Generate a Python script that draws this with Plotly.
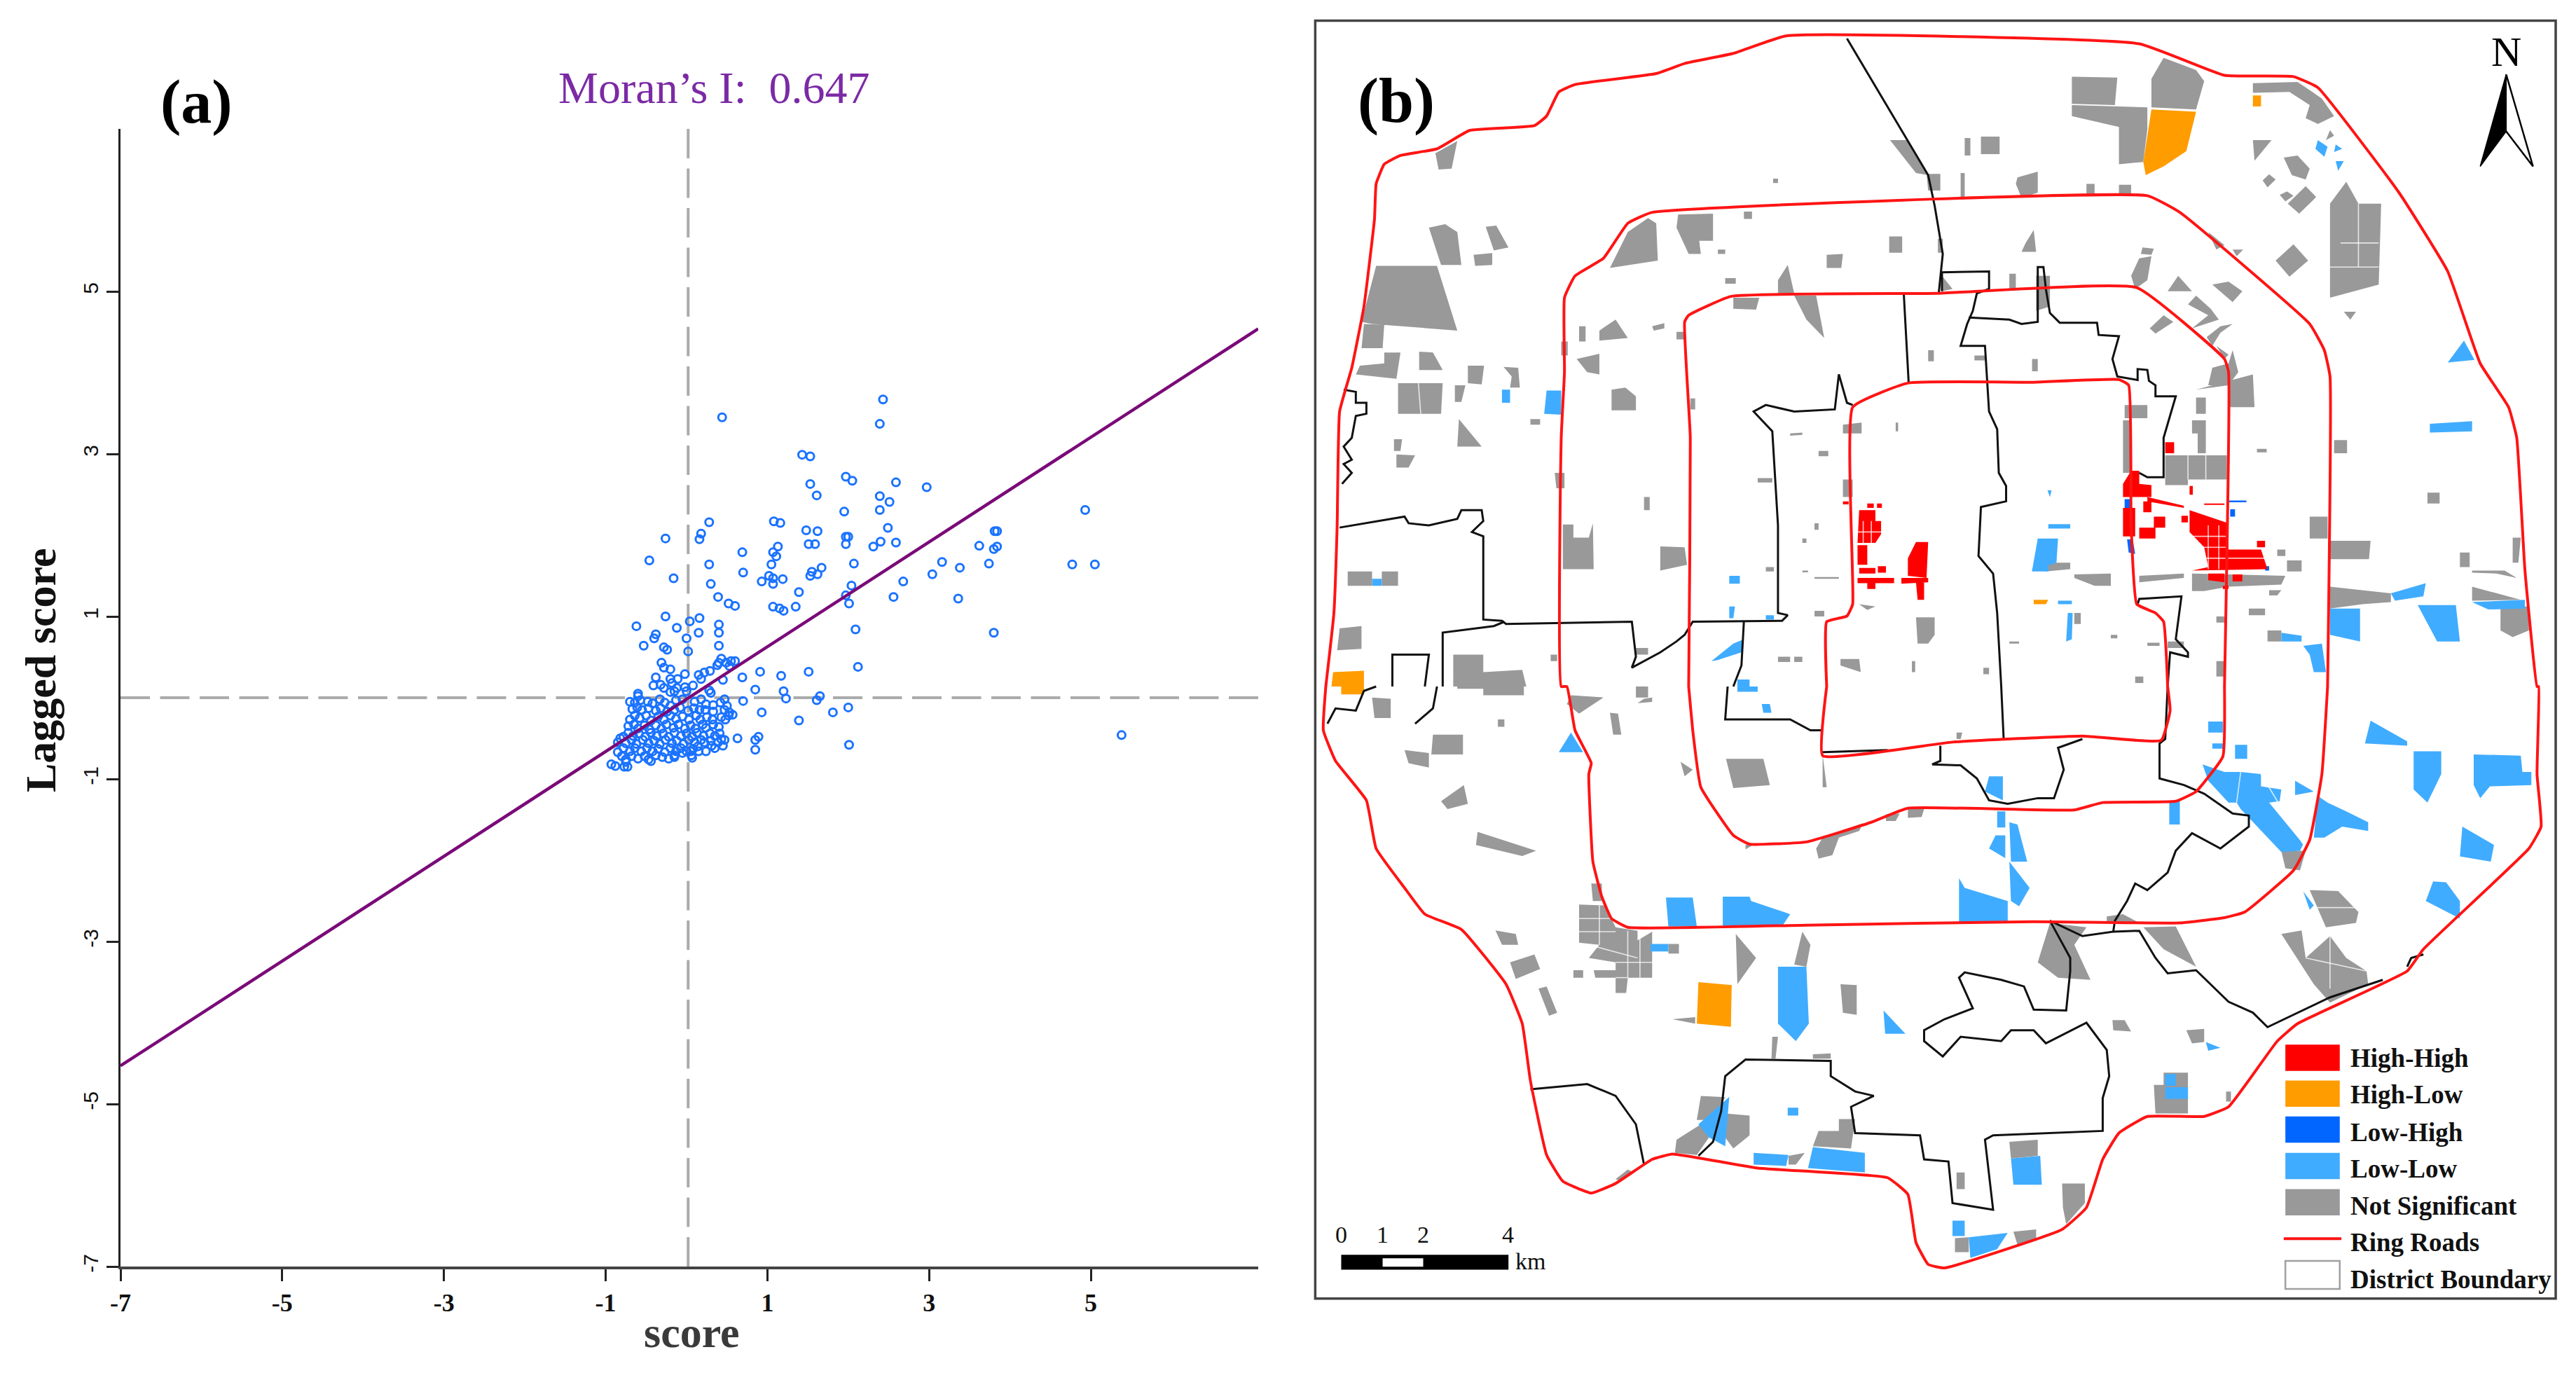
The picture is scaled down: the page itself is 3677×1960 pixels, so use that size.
import plotly.graph_objects as go

# panel (a): values
moran_points = [
    (2.43,3.67),(2.39,3.37),(0.44,3.45),(1.43,2.99),(1.53,2.97),(1.97,2.72),(2.05,2.67),(2.59,2.65),
    (2.97,2.59),(1.53,2.63),(1.61,2.49),(2.39,2.48),(2.51,2.41),(2.39,2.31),(1.95,2.29),(4.93,2.31),
    (1.08,2.17),(1.16,2.15),(0.28,2.16),(0.18,2.02),(0.16,1.95),(-0.26,1.96),(2.49,2.09),(1.48,2.06),
    (1.62,2.05),(3.84,2.05),(3.81,2.05),(1.97,1.98),(2.0,1.98),(2.40,1.92),(2.59,1.91),(2.31,1.86),
    (1.97,1.89),(1.51,1.89),(1.59,1.89),(1.13,1.86),(1.07,1.79),(0.69,1.79),(1.11,1.74),(3.62,1.87),
    (3.84,1.86),(3.80,1.83),(-0.46,1.69),(0.28,1.64),(1.05,1.64),(2.07,1.65),(3.16,1.67),(3.38,1.60),
    (3.74,1.65),(4.77,1.64),(5.05,1.64),(1.67,1.60),(1.55,1.55),(1.62,1.52),(1.53,1.50),(0.70,1.54),
    (-0.16,1.47),(1.02,1.50),(1.07,1.47),(1.19,1.46),(0.93,1.43),(1.07,1.40),(0.30,1.40),(2.68,1.43),
    (3.04,1.52),(2.04,1.38),(1.39,1.30),(1.97,1.26),(2.56,1.24),(3.36,1.22),(0.39,1.24),(0.52,1.16),
    (0.60,1.13),(2.01,1.16),(1.07,1.12),(1.15,1.10),(1.20,1.07),(1.35,1.12),(-0.26,1.00),(0.16,0.98),
    (0.04,0.94),(0.40,0.90),(-0.62,0.88),(-0.12,0.86),(0.15,0.80),(0.40,0.80),(-0.38,0.78),(-0.40,0.73),
    (0.0,0.73),(2.09,0.84),(3.80,0.80),(-0.53,0.64),(-0.28,0.62),(-0.24,0.59),(0.40,0.64),(0.02,0.57),
    (5.38,-0.46),(2.12,0.38),(1.51,0.32),(0.91,0.32),(1.17,0.27),(0.69,0.25),(0.85,0.10),(1.20,0.08),
    (1.23,-0.01),(1.65,0.02),(1.61,-0.03),(0.70,-0.04),(2.00,-0.12),(1.81,-0.18),(0.93,-0.18),(1.39,-0.28),
    (0.63,-0.50),(0.89,-0.48),(0.85,-0.52),(0.85,-0.64),(2.01,-0.58),(0.40,0.43),(0.43,0.48),(0.49,0.43),
    (0.55,0.45),(0.60,0.45),(0.38,0.40),(0.53,0.39),(0.45,0.22),(-0.31,0.43),(-0.28,0.37),(-0.20,0.35),
    (-0.38,0.25),(-0.02,0.29),(-0.11,0.23),(-0.20,0.23),(0.29,0.33),(0.22,0.31),(0.15,0.28),(0.18,0.23),
]
cluster_points = [
    (-0.41,0.15),(-0.32,0.16),(-0.28,0.12),(-0.18,0.18),(-0.12,0.12),(-0.02,0.13),(0.0,0.08),(0.08,0.15),
    (0.28,0.09),(0.3,0.06),(-0.2,0.07),(-0.15,0.08),(-0.6,0.05),(-0.6,0.02),
    (-0.7,-0.05),(-0.64,-0.06),(-0.57,-0.03),(-0.48,-0.05),(-0.42,-0.07),(-0.33,-0.02),(-0.27,-0.06),
    (-0.2,-0.1),(-0.13,-0.03),(-0.05,-0.02),(0.1,-0.05),(0.18,-0.02),(0.24,-0.08),(0.33,-0.09),(0.42,-0.06),
    (0.47,-0.02),(0.5,-0.1),
    (-0.67,-0.14),(-0.61,-0.12),(-0.55,-0.15),(-0.47,-0.13),(-0.38,-0.16),(-0.32,-0.13),(-0.24,-0.17),
    (-0.15,-0.15),(-0.08,-0.12),(0.02,-0.16),(0.09,-0.13),(0.16,-0.15),(0.23,-0.15),(0.33,-0.17),(0.47,-0.15),
    (0.53,-0.18),(0.57,-0.21),
    (-0.7,-0.27),(-0.64,-0.22),(-0.58,-0.25),(-0.5,-0.22),(-0.44,-0.28),(-0.35,-0.23),(-0.28,-0.27),
    (-0.2,-0.22),(-0.13,-0.26),(-0.05,-0.23),(0.03,-0.27),(0.12,-0.22),(0.17,-0.27),(0.25,-0.24),(0.32,-0.27),
    (0.43,-0.24),(0.48,-0.27),(0.52,-0.22),
    (-0.72,-0.35),(-0.65,-0.33),(-0.6,-0.38),(-0.52,-0.34),(-0.46,-0.39),(-0.38,-0.34),(-0.31,-0.38),
    (-0.25,-0.33),(-0.16,-0.37),(-0.1,-0.33),(-0.02,-0.38),(0.05,-0.34),(0.11,-0.38),(0.2,-0.33),(0.24,-0.37),
    (0.33,-0.33),(0.4,-0.36),
    (-0.78,-0.48),(-0.72,-0.43),(-0.66,-0.47),(-0.59,-0.44),(-0.51,-0.48),(-0.44,-0.43),(-0.37,-0.47),
    (-0.29,-0.44),(-0.22,-0.48),(-0.15,-0.43),(-0.07,-0.47),(0.0,-0.44),(0.07,-0.48),(0.13,-0.43),(0.21,-0.47),
    (0.29,-0.44),(0.35,-0.47),(0.41,-0.44),
    (-0.85,-0.55),(-0.82,-0.5),(-0.75,-0.56),(-0.68,-0.52),(-0.62,-0.57),(-0.54,-0.52),(-0.47,-0.56),
    (-0.4,-0.53),(-0.33,-0.57),(-0.26,-0.52),(-0.18,-0.56),(-0.12,-0.53),(-0.04,-0.57),(0.03,-0.52),(0.1,-0.55),
    (0.18,-0.52),(0.22,-0.55),(0.3,-0.53),(0.39,-0.55),(0.43,-0.51),
    (-0.85,-0.67),(-0.78,-0.62),(-0.7,-0.66),(-0.64,-0.62),(-0.56,-0.66),(-0.49,-0.62),(-0.42,-0.66),
    (-0.35,-0.63),(-0.27,-0.67),(-0.2,-0.62),(-0.13,-0.66),(-0.07,-0.62),(0.0,-0.66),(0.08,-0.63),(0.15,-0.66),
    (0.35,-0.62),(0.14,-0.6),
    (-0.8,-0.72),(-0.75,-0.76),(-0.68,-0.72),(-0.6,-0.75),(-0.52,-0.72),(-0.47,-0.76),(-0.38,-0.71),
    (-0.3,-0.73),(-0.15,-0.71),(-0.05,-0.68),(0.05,-0.66),(0.07,-0.74),
    (-0.93,-0.82),(-0.88,-0.84),(-0.77,-0.85),(-0.73,-0.85),(-0.75,-0.79),(-0.44,-0.78),(-0.22,-0.75),
    (-0.15,-0.73),(0.06,-0.71),(0.24,-0.66),(0.31,-0.59),(0.45,-0.59),(0.47,-0.52),
]
fit_x = [-7, 7.07]
fit_y = [-4.53, 4.54]
tick_vals = [-7, -5, -3, -1, 1, 3, 5]
tick_text = ["-7", "-5", "-3", "-1", "1", "3", "5"]

# panel (b): map outlines, map units, north half and south half of the sheet
ring_outer_n = [(28,1568),(38,1400),(42,1200),(45,940),(60,840),(75,700),(88,500),(90,420),(100,375),(120,355),(165,340),(205,298),(285,287),(300,265),(315,210),(335,193),(435,168),(470,145),(530,122),(595,82),(1030,100),(1135,172),(1220,175),(1250,200),(1350,440),(1410,620),(1450,830),(1485,930),(1495,1000),(1505,1300),(1520,1568)]
ring_outer_s = [(1522,0),(1520,200),(1525,320),(1510,370),(1380,600),(1360,650),(1225,770),(1200,810),(1140,960),(1110,982),(1040,982),(1005,1020),(985,1080),(965,1190),(935,1240),(790,1328),(770,1320),(755,1270),(745,1160),(720,1122),(560,1100),(455,1068),(430,1080),(385,1135),(355,1157),(320,1130),(300,1070),(280,900),(270,770),(250,680),(195,555),(150,520),(125,460),(90,370),(78,260),(40,170),(25,100),(28,0)]
ring_4_n = [(318,1568),(318,1000),(322,850),(322,680),(335,630),(370,590),(400,510),(430,485),(1040,447),(1080,485),(1240,740),(1258,800),(1265,860),(1262,1568)]
ring_4_s = [(1262,0),(1255,200),(1240,350),(1220,420),(1160,515),(1135,528),(1080,540),(900,537),(620,545),(400,550),(380,530),(368,480),(357,400),(352,200),(355,175),(335,100),(325,0)]
ring_3_n = [(475,1568),(477,1000),(470,735),(475,720),(527,677),(780,670),(1027,657),(1135,820),(1140,850),(1135,1568)]
ring_3_s = [(1135,0),(1133,160),(1100,240),(1075,262),(985,265),(950,282),(745,278),(700,310),(620,355),(550,360),(530,340),(490,230),(480,100),(475,0)]
ring_2_n = [(645,1568),(645,1420),(670,1407),(677,1380),(677,930),(745,875),(900,873),(1005,867),(1017,880),(1020,1200),(1027,1380),(1050,1400),(1060,1420),(1065,1568)]
ring_2_s = [(1065,0),(1068,55),(1057,123),(960,113),(800,127),(640,158),(645,0)]

district_n = [
    [(670,88),(770,400),(778,470),(788,580),(783,670)],
    [(740,672),(746,875)],
    [(787,665),(787,622),(845,620),(845,660),(830,670),(825,710),(818,740),(810,790),(840,790),(845,940),(855,980),(857,1080),(866,1110),(866,1145),(835,1158),(832,1270),(850,1310),(855,1400),(860,1568)],
    [(820,725),(870,730),(885,740),(905,735),(905,610),(912,610),(915,660),(920,715),(932,737),(978,737),(980,765),(1005,768),(997,820),(1003,860),(1028,868),(1028,843),(1040,845),(1042,870),(1050,880),(1050,905),(1075,905),(1060,1000),(1060,1090),(1040,1090),(1030,1080)],
    [(1028,1380),(1030,1368),(1082,1362),(1075,1460),(1090,1490),(1090,1500),(1068,1490),(1065,1568)],
    [(50,890),(65,895),(65,920),(78,920),(78,945),(65,950),(60,1000),(50,1020),(60,1050),(50,1060),(60,1080),(50,1100),(48,1105)],
    [(45,1205),(125,1180),(130,1195),(155,1200),(190,1185),(195,1165),(220,1165),(222,1190),(208,1215),(222,1225),(222,1415),(245,1418),(250,1425),(405,1420),(410,1500),(405,1525),(440,1490),(460,1465),(470,1450),(480,1420),(590,1418),(597,1405),(585,1400),(585,1200),(578,985),(555,940),(570,925),(605,940),(655,935),(660,855),(670,920),(677,925)],
    [(172,1568),(172,1445),(235,1430),(248,1420)],
    [(110,1568),(110,1495),(155,1495),(150,1568)],
    [(543,1420),(540,1520),(530,1568)],
]
district_s = [
    [(860,0),(863,120)],
    [(1065,0),(1062,120),(1055,130),(1055,210),(1085,225),(1110,245),(1145,290),(1165,295),(1165,320),(1130,370),(1095,335),(1075,375),(1065,425),(1040,465),(1025,450),(1015,490),(1000,535),(998,560),(960,570),(920,535),(945,620),(945,650),(940,740),(900,738),(888,685),(860,670),(815,653),(808,665),(825,735),(790,760),(765,785),(765,810),(788,845),(810,800),(860,810),(872,785),(900,785),(915,815),(965,768),(990,830),(993,890),(985,940),(985,1015),(850,1025),(840,1035),(850,1195),(800,1180),(795,1085),(765,1080),(760,1025),(680,1020),(675,960),(703,935),(680,925),(650,890),(650,855),(545,852),(520,890),(515,970),(505,1040),(487,1072)],
    [(998,560),(1030,558),(1050,620),(1065,655),(1100,648),(1140,720),(1170,745),(1188,778),(1265,710),(1330,670)],
    [(280,920),(350,908),(385,935),(410,1000),(420,1092)],
    [(1360,640),(1365,620),(1380,612)],
    [(785,135),(785,170),(775,178),(810,180),(830,210),(845,260),(868,268),(905,255),(925,255),(937,190),(930,140),(960,120)],
    [(523,0),(520,75),(600,75),(625,100),(640,100)],
    [(640,150),(720,145)],
    [(165,0),(160,50),(138,85)],
    [(90,0),(75,10),(65,55),(40,50),(30,85)],
]

grey_n = [
    [(1060,132),(1100,160),(1110,185),(1100,250),(1045,245),(1045,180)],
    [(947,175),(1003,177),(1000,240),(947,237)],
    [(947,240),(1040,245),(1040,295),(1035,370),(1005,375),(1005,290),(947,265)],
    [(1170,190),(1225,187),(1255,225),(1270,265),(1250,283),(1235,270),(1240,240),(1215,210),(1170,212)],
    [(1170,320),(1193,320),(1172,367)],[(1265,297),(1270,310),(1260,320)],
    [(1208,360),(1225,355),(1240,385),(1235,410),(1218,400)],[(1190,398),(1198,410),(1188,428),(1182,412)],
    [(1212,437),(1220,447),(1210,460),(1203,445)],[(1235,425),(1248,450),(1227,488),(1213,465)],
    [(1285,415),(1300,465),(1328,465),(1325,650),(1265,680),(1265,465)],[(1220,558),(1238,595),(1215,632),(1198,595)],
    [(1282,712),(1297,712),(1290,730)],[(723,320),(745,320),(770,400),(755,395)],
    [(815,315),(822,315),(822,355),(815,355)],[(835,312),(858,312),(858,352),(835,352)],
    [(768,397),(785,397),(785,435),(770,435)],[(810,395),(815,395),(815,455),(810,455)],
    [(880,405),(905,392),(905,440),(885,452),(878,420)],[(965,420),(975,420),(975,447),(965,447)],
    [(1005,422),(1020,422),(1020,445),(1005,445)],[(579,408),(585,408),(585,418),(579,418)],
    [(163,350),(190,322),(183,385),(167,387)],[(155,520),(175,512),(190,530),(195,605),(170,605)],
    [(225,518),(238,515),(253,565),(235,572)],[(210,582),(233,578),(233,605),(212,607)],
    [(90,607),(165,607),(190,755),(85,740),(72,735)],[(75,740),(100,742),(98,795),(72,795)],
    [(100,805),(120,805),(115,865),(65,855),(70,835),(100,830)],[(143,803),(160,805),(172,845),(143,845)],
    [(203,835),(223,835),(220,878),(203,875)],[(247,838),(265,840),(267,885),(255,885),(257,860)],
    [(117,875),(172,875),(170,945),(117,945)],[(187,880),(200,880),(195,918),(187,918)],
    [(280,957),(292,957),(292,970),(280,970)],[(192,957),(220,1020),(190,1020)],
    [(112,1003),(122,1003),(120,1030),(112,1030)],[(115,1038),(138,1040),(130,1068),(115,1068)],
    [(55,1305),(85,1305),(85,1338),(55,1338)],[(97,1305),(117,1305),(117,1338),(97,1338)],
    [(380,890),(397,885),(410,905),(410,937),(380,937)],[(337,820),(365,808),(365,855),(350,850)],
    [(340,745),(348,745),(348,780),(340,780)],[(365,755),(385,730),(400,772),(365,778)],
    [(430,745),(445,738),(445,750),(432,755)],[(460,758),(470,758),(470,775),(460,775)],
    [(318,780),(326,780),(326,812),(318,812)],[(378,612),(400,530),(425,498),(435,510),(437,595)],
    [(462,490),(505,488),(505,550),(488,550),(490,580),(475,580),(460,520)],[(543,483),(553,483),(553,500),(543,500)],
    [(511,570),(520,570),(520,580),(511,580)],[(722,540),(738,540),(738,577),(722,577)],
    [(645,582),(665,580),(663,612),(645,612)],[(520,635),(533,635),(533,648),(520,648)],
    [(585,640),(597,605),(605,670),(585,670)],[(530,680),(562,680),(558,707),(530,705)],
    [(605,675),(632,675),(642,772),(620,730)],[(782,545),(788,545),(788,577),(782,577)],
    [(890,555),(900,525),(903,575),(885,575)],[(787,630),(800,660),(787,665)],
    [(870,625),(878,625),(878,662),(870,662)],[(903,630),(920,630),(920,700),(903,710)],
    [(1034,565),(1048,568),(1045,582),(1032,580)],[(1030,590),(1045,585),(1040,640),(1025,660),(1020,630)],
    [(1078,630),(1095,665),(1065,665)],[(1120,650),(1140,643),(1157,665),(1145,690)],
    [(1100,675),(1118,705),(1128,730),(1095,750),(1115,720),(1090,695)],[(1060,720),(1072,735),(1050,762),(1043,750)],
    [(1115,530),(1135,560),(1125,570)],[(1145,570),(1158,570),(1150,585)],
    [(1130,745),(1145,740),(1130,760),(1120,790),(1113,770)],[(1125,790),(1140,810),(1135,820)],
    [(1145,800),(1152,850),(1140,880),(1115,880),(1120,840),(1140,830)],[(1100,890),(1170,855),(1172,930),(1140,930),(1140,880)],
    [(1100,908),(1112,908),(1112,945),(1100,945)],[(1012,925),(1040,925),(1040,955),(1012,955)],
    [(1010,960),(1020,960),(1020,1080),(1010,1080)],[(1095,960),(1112,960),(1112,1035),(1102,1035),(1102,990),(1095,990)],
    [(1062,1040),(1138,1040),(1138,1095),(1090,1095),(1090,1108),(1062,1108)],[(1175,1025),(1187,1025),(1187,1033),(1175,1033)],
    [(1270,1005),(1286,1005),(1286,1035),(1270,1035)],[(1385,1125),(1400,1125),(1400,1150),(1385,1150)],
    [(1240,1180),(1262,1180),(1262,1230),(1240,1230)],[(1265,1235),(1315,1235),(1313,1277),(1265,1277)],
    [(1425,1262),(1437,1262),(1437,1295),(1425,1295)],[(1490,1228),(1500,1228),(1497,1285),(1490,1285)],
    [(1440,1303),(1480,1303),(1495,1320),(1470,1310),(1440,1308)],[(1265,1340),(1340,1355),(1340,1375),(1305,1380),(1265,1390)],
    [(1440,1340),(1500,1370),(1440,1372)],[(1475,1385),(1510,1385),(1510,1440),(1490,1455),(1475,1440)],
    [(1188,1440),(1205,1440),(1205,1465),(1188,1465)],[(1165,1390),(1185,1390),(1185,1405),(1165,1405)],
    [(1125,1408),(1135,1408),(1135,1422),(1125,1422)],[(1095,1310),(1210,1315),(1205,1335),(1140,1340),(1110,1350),(1095,1350)],
    [(1190,1348),(1205,1348),(1200,1360),(1190,1360)],[(1212,1280),(1230,1280),(1230,1305),(1212,1305)],
    [(1200,1255),(1210,1255),(1210,1270),(1200,1270)],[(950,1312),(995,1310),(995,1338),(975,1338),(950,1320)],
    [(1030,1315),(1085,1310),(1085,1320),(1030,1330)],[(905,1285),(945,1285),(945,1300),(915,1305)],
    [(770,800),(777,800),(777,825),(770,825)],[(827,812),(840,812),(840,823),(827,823)],
    [(898,820),(905,820),(905,848),(898,848)],[(665,1095),(677,1095),(677,1135),(665,1135)],
    [(665,970),(688,965),(688,990),(665,990)],[(730,965),(733,965),(733,985),(730,985)],
    [(635,1030),(647,1030),(647,1042),(635,1042)],[(600,990),(615,988),(615,993),(600,995)],
    [(560,1092),(578,1092),(578,1102),(560,1102)],[(420,1135),(427,1135),(427,1165),(420,1165)],
    [(570,1295),(580,1295),(580,1305),(570,1305)],[(630,1318),(660,1318),(660,1322),(630,1322)],
    [(615,1303),(622,1303),(622,1307),(615,1307)],[(630,1195),(635,1195),(635,1210),(630,1210)],
    [(615,1230),(620,1230),(620,1240),(615,1240)],[(320,1198),(333,1198),(333,1228),(352,1228),(357,1195),(358,1300),(320,1300)],
    [(440,1248),(470,1250),(473,1290),(440,1303)],[(310,1080),(322,1080),(322,1115),(312,1115)],
    [(477,910),(483,910),(483,935),(477,935)],[(410,1480),(425,1480),(425,1495),(410,1495)],
    [(755,1410),(778,1410),(778,1450),(770,1470),(757,1470)],[(685,1380),(705,1385),(695,1393)],
    [(630,1395),(642,1395),(642,1408),(630,1408)],[(662,1505),(685,1505),(687,1535),(662,1520)],
    [(585,1500),(600,1500),(600,1512),(585,1512)],[(605,1500),(615,1500),(615,1512),(605,1512)],
    [(750,1510),(754,1510),(754,1535),(750,1535)],[(838,1525),(845,1525),(845,1540),(838,1540)],
    [(1025,1545),(1035,1545),(1035,1560),(1025,1560)],[(870,1465),(882,1465),(882,1470),(870,1470)],
    [(995,1450),(1003,1450),(1003,1458),(995,1458)],[(1040,1468),(1055,1468),(1055,1475),(1040,1475)],
    [(1065,1465),(1085,1465),(1085,1480),(1065,1480)],[(1125,1510),(1135,1510),(1135,1545),(1125,1545)],
    [(950,1400),(958,1400),(958,1425),(950,1425)],[(45,1435),(72,1430),(72,1482),(42,1485)],
    [(185,1495),(222,1495),(222,1568),(185,1568)],[(222,1535),(270,1530),(275,1568),(222,1568)],
    [(305,1495),(313,1495),(313,1510),(305,1510)],
]
grey_s = [
    [(190,0),(222,0),(222,5),(190,5)],[(222,0),(272,0),(272,20),(222,20)],
    [(85,25),(108,28),(108,72),(88,72)],[(160,110),(197,110),(197,155),(158,155)],
    [(125,145),(155,152),(155,185),(130,175)],[(198,225),(203,268),(178,280),(170,262)],
    [(240,75),(248,75),(248,92),(240,92)],[(215,332),(287,375),(270,387),(213,362)],
    [(330,20),(370,25),(340,62),(325,40)],[(378,60),(388,62),(392,110),(382,110)],
    [(465,172),(480,190),(470,205)],[(521,165),(567,165),(575,225),(530,232)],
    [(640,155),(645,230),(640,230)],[(410,0),(425,0),(425,25),(410,25)],[(420,28),(430,25),(430,35),(412,38)],
    [(545,362),(558,358),(545,372)],[(632,370),(640,345),(690,312),(685,330),(660,345),(652,385),(635,393)],
    [(718,292),(735,290),(730,307),(718,307)],[(745,280),(765,280),(762,298),(745,300)],
    [(805,105),(812,105),(810,120),(805,120)],[(1205,375),(1235,375),(1228,420),(1210,415)],
    [(990,525),(1010,520),(1030,540),(990,540)],[(905,630),(920,540),(965,550),(950,590),(970,670),(930,665)],
    [(1035,550),(1075,548),(1100,640),(1060,600)],[(1240,465),(1275,467),(1300,515),(1297,540),(1260,550)],
    [(1205,565),(1230,557),(1235,620),(1265,570),(1285,620),(1310,650),(1312,680),(1265,722),(1245,680)],
    [(355,450),(368,450),(368,490),(357,490)],
    [(340,498),(372,500),(385,550),(412,558),(412,580),(430,560),(430,665),(400,665),(398,700),(385,700),(385,665),(360,665),(358,648),(385,648),(385,630),(352,620),(365,590),(340,585)],
    [(237,557),(262,565),(265,590),(245,590)],[(255,630),(285,612),(292,645),(262,668)],
    [(333,648),(345,648),(345,665),(333,665)],[(290,690),(300,685),(313,745),(303,752)],
    [(450,588),(463,588),(463,610),(450,610)],[(533,565),(558,620),(535,680)],
    [(605,635),(615,560),(625,590),(620,640)],[(662,680),(682,682),(682,750),(665,745)],
    [(455,760),(483,755),(483,770)],[(578,800),(585,800),(582,850),(577,850)],
    [(628,840),(650,838),(650,850),(628,850)],[(997,762),(1012,762),(1020,788),(998,785)],
    [(1088,785),(1110,782),(1110,812),(1095,815)],[(1048,910),(1060,910),(1060,882),(1090,882),(1090,975),(1050,975)],
    [(1137,925),(1143,925),(1143,948),(1137,948)],[(490,935),(520,938),(505,990),(485,990)],
    [(520,975),(550,980),(550,1025),(530,1055),(520,1030)],[(490,1000),(500,1030),(485,1070),(458,1065),(460,1035)],
    [(660,988),(680,988),(675,1055),(628,1050),(635,1015),(660,1015)],[(870,1040),(905,1035),(905,1072),(872,1078)],
    [(935,1135),(963,1135),(963,1180),(940,1228),(936,1190)],[(805,1110),(815,1110),(815,1148),(805,1148)],
    [(803,1260),(820,1258),(820,1292),(803,1292)],[(875,1245),(903,1240),(903,1262),(880,1275)],
    [(385,1125),(400,1103),(405,1108),(392,1130)],[(598,1072),(618,1065),(607,1092),(598,1092)],
]
# thin white parcel lines inside the grey and red blocks
parcel_gaps_n = [
    [(1278,555),(1325,555)],[(1265,610),(1325,610)],[(1300,465),(1300,610)],
    [(142,875),(145,945)],[(1090,1040),(1090,1095)],[(1112,1040),(1112,1095)],
    [(690,1190),(690,1240)],[(700,1190),(700,1240)],[(683,1215),(712,1215)],
    [(1115,1200),(1115,1300)],[(1128,1200),(1128,1300)],[(1095,1225),(1140,1225)],[(1095,1250),(1140,1250)],[(1110,1275),(1188,1275)],
]
parcel_gaps_s = [
    [(340,530),(385,530)],[(340,560),(385,560)],[(365,500),(365,590)],[(352,590),(412,620)],
    [(385,630),(430,630)],[(400,558),(400,665)],[(415,558),(415,665)],[(385,665),(400,665)],
    [(1245,505),(1295,505)],[(1235,620),(1310,650)],[(1265,570),(1265,690)],
    [(1180,200),(1232,360)],[(1155,195),(1150,265)],
]
low_low_n = [
    [(1250,320),(1262,335),(1258,358),(1247,340)],[(1272,330),(1280,340),(1270,347)],[(1272,368),(1282,368),(1275,390)],
    [(85,1322),(97,1322),(97,1338),(85,1338)],[(245,890),(255,890),(255,920),(245,920)],[(300,892),(318,892),(318,947),(297,945)],
    [(1388,968),(1440,962),(1440,985),(1388,988)],[(1410,828),(1430,778),(1443,822)],
    [(525,1315),(538,1315),(538,1333),(525,1333)],[(525,1385),(532,1385),(530,1412),(525,1412)],
    [(570,1405),(580,1405),(580,1415),(570,1415)],[(503,1510),(530,1470),(543,1460),(540,1490),(510,1508)],
    [(535,1552),(550,1552),(550,1568),(535,1568)],[(905,1230),(930,1230),(928,1285),(905,1300),(898,1303)],
    [(918,1197),(945,1197),(945,1207),(918,1207)],[(917,1120),(922,1120),(920,1135)],
    [(898,1300),(918,1292),(918,1305),(898,1305)],[(930,1372),(947,1372),(947,1380),(930,1380)],
    [(942,1400),(948,1400),(947,1460),(940,1465)],[(1265,1390),(1302,1390),(1302,1465),(1265,1450)],
    [(1340,1355),(1383,1332),(1380,1362),(1345,1372)],[(1373,1382),(1420,1382),(1425,1465),(1397,1465)],
    [(1440,1375),(1505,1370),(1505,1390),(1460,1392)],[(1205,1445),(1230,1452),(1230,1465),(1205,1465)],
    [(1232,1475),(1255,1470),(1260,1535),(1245,1535),(1240,1495)],
]
low_low_s = [
    [(1315,78),(1360,125),(1360,135),(1308,130)],[(1368,148),(1402,148),(1402,200),(1385,265),(1368,235)],
    [(1442,155),(1500,158),(1502,195),(1513,195),(1513,225),(1462,228),(1450,255),(1442,225)],
    [(1428,320),(1467,362),(1463,400),(1425,388)],[(1392,445),(1408,447),(1425,490),(1425,530),(1383,490)],
    [(1222,215),(1245,240),(1222,248)],[(1250,250),(1262,265),(1285,285),(1312,310),(1312,330),(1280,320),(1258,345),(1245,345)],
    [(1115,80),(1133,80),(1133,105),(1115,105)],[(1120,130),(1133,130),(1133,142),(1120,142)],
    [(1148,133),(1163,133),(1163,165),(1148,165)],
    [(1108,178),(1135,195),(1155,195),(1180,200),(1180,228),(1205,235),(1203,262),(1190,265),(1232,360),(1228,375),(1205,378),(1155,280),(1150,265),(1140,265),(1115,215)],
    [(1067,265),(1080,262),(1080,315),(1067,315)],[(855,285),(865,285),(865,322),(855,322)],
    [(853,340),(865,340),(865,392),(845,370)],[(870,310),(880,315),(892,400),(872,400)],
    [(870,400),(895,460),(882,502),(872,490)],[(808,438),(815,460),(868,490),(868,537),(808,540)],
    [(447,482),(480,482),(485,548),(450,548)],[(517,480),(550,480),(552,490),(600,520),(590,548),(517,548)],
    [(585,640),(620,640),(623,770),(607,810),(585,770)],[(715,740),(742,793),(717,793)],
    [(487,1000),(525,937),(520,1050),(500,1030)],[(555,1065),(598,1070),(595,1095),(555,1092)],
    [(628,1052),(692,1065),(692,1110),(622,1100)],[(872,1078),(908,1072),(910,1138),(875,1138)],
    [(800,1220),(815,1220),(815,1255),(800,1255)],[(820,1258),(868,1248),(855,1285),(822,1305)],
    [(1062,885),(1075,885),(1075,912),(1062,912)],[(1062,915),(1090,915),(1090,942),(1062,942)],
    [(1112,812),(1130,825),(1115,832)],[(597,962),(610,962),(610,980),(597,980)],
    [(315,150),(330,105),(345,150)],[(1232,468),(1245,500),(1240,510)],
    [(845,205),(862,205),(862,260),(840,240)],[(535,0),(560,0),(560,12),(535,12)],
    [(565,40),(575,40),(577,60),(567,60)],[(428,588),(450,588),(450,605),(428,605)],
]
low_high_n = [
    [(1012,1140),(1020,1140),(1020,1160),(1012,1160)],[(1142,1163),(1148,1163),(1148,1180),(1142,1180)],
    [(1015,1232),(1022,1232),(1025,1265),(1017,1262)],[(1185,1293),(1190,1293),(1190,1303),(1185,1303)],
    [(1140,1143),(1162,1143),(1162,1147),(1140,1147)],
]
high_low_n = [
    [(1045,250),(1100,255),(1088,345),(1060,380),(1038,400),(1035,370)],
    [(1170,218),(1180,218),(1180,243),(1170,243)],[(900,1370),(918,1370),(915,1380),(900,1380)],
    [(37,1535),(75,1532),(75,1568),(35,1568)],
]
high_low_s = [[(47,0),(75,0),(75,18),(47,18)],[(487,675),(528,682),(527,777),(485,770)]]
high_high_n = [
    [(685,1165),(705,1165),(705,1190),(712,1190),(712,1220),(705,1240),(683,1240)],
    [(683,1245),(695,1245),(695,1290),(683,1290)],[(685,1297),(705,1297),(705,1310),(685,1310)],
    [(708,1293),(718,1293),(718,1308),(708,1308)],
    [(683,1320),(728,1320),(728,1332),(705,1332),(705,1345),(695,1345),(695,1332),(683,1332)],
    [(737,1320),(770,1320),(770,1330),(737,1333)],[(755,1330),(765,1330),(765,1370),(757,1370)],
    [(755,1238),(770,1238),(768,1320),(745,1315),(745,1275)],[(665,1145),(672,1145),(672,1152),(665,1152)],
    [(695,1150),(703,1150),(703,1160),(695,1160)],[(707,1150),(713,1150),(713,1160),(707,1160)],
    [(1020,1075),(1030,1075),(1030,1105),(1045,1108),(1045,1135),(1010,1135),(1010,1105)],
    [(1062,1010),(1073,1010),(1073,1035),(1062,1035)],[(1040,1135),(1085,1155),(1085,1160),(1040,1145)],
    [(1035,1145),(1045,1145),(1045,1170),(1035,1170)],[(1010,1160),(1025,1160),(1025,1225),(1010,1225)],
    [(1030,1205),(1050,1205),(1050,1230),(1030,1230)],[(1048,1180),(1062,1180),(1062,1205),(1048,1205)],
    [(1082,1178),(1090,1178),(1090,1193),(1082,1193)],[(1110,1150),(1135,1150),(1135,1153),(1110,1153)],
    [(1092,1110),(1096,1110),(1096,1130),(1092,1130)],
    [(1092,1165),(1140,1195),(1140,1255),(1180,1255),(1188,1300),(1095,1303),(1115,1295),(1110,1250),(1092,1215)],
    [(1175,1235),(1185,1235),(1185,1250),(1175,1250)],[(1115,1310),(1135,1310),(1135,1330),(1115,1325)],
    [(1145,1312),(1157,1312),(1157,1328),(1145,1328)],[(1133,1338),(1140,1338),(1140,1345),(1133,1345)],
]

legend_labels = ["High-High", "High-Low", "Low-High", "Low-Low", "Not Significant", "Ring Roads", "District Boundary"]
class_colors = ["#ff0000", "#ff9c00", "#0066ff", "#40acff", "#999999"]
scale_labels = ["0", "1", "2", "4"]

W, H = 3677, 1960
SOUTH = 1568
SERIF = "Liberation Serif"


def xy_paths(north, south):
    xs, ys = [], []
    for path in north:
        for x, y in path:
            xs.append(x)
            ys.append(y)
        xs.append(None)
        ys.append(None)
    for path in south:
        for x, y in path:
            xs.append(x)
            ys.append(y + SOUTH)
        xs.append(None)
        ys.append(None)
    return xs, ys


def add_patches(fig, north, south, color, name):
    xs, ys = xy_paths(north, south)
    fig.add_trace(go.Scatter(x=xs, y=ys, mode="lines", fill="toself", fillcolor=color,
                             line=dict(width=0, color=color), name=name, xaxis="x2", yaxis="y2",
                             hoverinfo="name"))


fig = go.Figure()

# dashed origin lines
for dx, dy in [([-7, 7.07], [0, 0]), ([0.02, 0.02], [-7, 7])]:
    fig.add_trace(go.Scatter(x=dx, y=dy, mode="lines", hoverinfo="skip",
                             line=dict(color="#ababab", width=4, dash="42px,14.5px")))

all_points = moran_points + cluster_points
fig.add_trace(go.Scatter(x=[p[0] for p in all_points], y=[p[1] for p in all_points], mode="markers",
                         name="score",
                         marker=dict(symbol="circle-open", size=11, color="#1a72ff", line=dict(width=3))))
fig.add_trace(go.Scatter(x=fit_x, y=fit_y, mode="lines", name="Moran's I",
                         line=dict(color="#7a0a78", width=4.5)))

add_patches(fig, grey_n, grey_s, class_colors[4], "Not Significant")
add_patches(fig, low_low_n, low_low_s, class_colors[3], "Low-Low")
add_patches(fig, low_high_n, [], class_colors[2], "Low-High")
add_patches(fig, high_low_n, high_low_s, class_colors[1], "High-Low")
add_patches(fig, high_high_n, [], class_colors[0], "High-High")

xs, ys = xy_paths(parcel_gaps_n, parcel_gaps_s)
fig.add_trace(go.Scatter(x=xs, y=ys, mode="lines", hoverinfo="skip", xaxis="x2", yaxis="y2",
                         line=dict(color="rgba(255,255,255,0.75)", width=1.6)))

xs, ys = xy_paths(district_n, district_s)
fig.add_trace(go.Scatter(x=xs, y=ys, mode="lines", name="District Boundary", xaxis="x2", yaxis="y2",
                         line=dict(color="#111111", width=3)))
for ring_n, ring_s in [(ring_outer_n, ring_outer_s), (ring_4_n, ring_4_s), (ring_3_n, ring_3_s), (ring_2_n, ring_2_s)]:
    closed_s = ring_s + [(ring_n[0][0], ring_n[0][1] - SOUTH)]
    xs, ys = xy_paths([ring_n], [closed_s])
    xs = [v for v in xs if v is not None]
    ys = [v for v in ys if v is not None]
    fig.add_trace(go.Scatter(x=xs, y=ys, mode="lines", name="Ring Roads", xaxis="x2", yaxis="y2",
                             line=dict(color="#ff1414", width=4, shape="spline", smoothing=0.35)))

# north arrow
fig.add_trace(go.Scatter(x=[1482, 1482, 1450, 1482], y=[170, 300, 380, 170], mode="lines", fill="toself",
                         fillcolor="#000000", line=dict(color="#000000", width=1.5), xaxis="x2", yaxis="y2"))
fig.add_trace(go.Scatter(x=[1482, 1515, 1482], y=[170, 380, 300], mode="lines",
                         line=dict(color="#000000", width=2.5), xaxis="x2", yaxis="y2"))

shapes = [dict(type="rect", xref="x2", yref="y2", x0=15, x1=1543, y0=47, y1=1398 + SOUTH,
               line=dict(color="#444444", width=3.5))]
# legend swatches
swatch_tops = [818, 900, 982, 1065, 1148]
for top, color in zip(swatch_tops, class_colors):
    shapes.append(dict(type="rect", xref="x2", yref="y2", x0=1210, x1=1277, y0=top + SOUTH, y1=top + 60 + SOUTH,
                       fillcolor=color, line=dict(width=0)))
shapes.append(dict(type="line", xref="x2", yref="y2", x0=1208, x1=1279, y0=1261 + SOUTH, y1=1261 + SOUTH,
                   line=dict(color="#ff1414", width=4)))
shapes.append(dict(type="rect", xref="x2", yref="y2", x0=1210, x1=1277, y0=1312 + SOUTH, y1=1376 + SOUTH,
                   fillcolor="#ffffff", line=dict(color="#a0a0a0", width=2.5)))
# scale bar
shapes.append(dict(type="rect", xref="x2", yref="y2", x0=47, x1=253, y0=1298 + SOUTH, y1=1332 + SOUTH,
                   fillcolor="#000000", line=dict(width=0)))
shapes.append(dict(type="rect", xref="x2", yref="y2", x0=98, x1=148, y0=1306 + SOUTH, y1=1325 + SOUTH,
                   fillcolor="#ffffff", line=dict(width=0)))

annotations = [
    dict(text="(a)", x=280 / W, y=1 - 145 / H, font=dict(family=SERIF, size=88, color="#000000", weight="bold")),
    dict(text="(b)", x=1993 / W, y=1 - 144 / H, font=dict(family=SERIF, size=90, color="#000000", weight="bold")),
    dict(text="Moran\u2019s I:\u00a0\u00a00.647", x=1019 / W, y=1 - 126 / H, font=dict(family=SERIF, size=64, color="#7b2aa5")),
    dict(text="score", x=987 / W, y=1 - 1902 / H, font=dict(family=SERIF, size=62, color="#3a3a3a", weight="bold")),
    dict(text="Lagged score", x=58 / W, y=1 - 957 / H, textangle=-90, font=dict(family=SERIF, size=62, color="#111111", weight="bold")),
]
for a in annotations:
    a.update(xref="paper", yref="paper", showarrow=False, xanchor="center", yanchor="middle")

map_notes = [dict(text="N", x=1482, y=118, xanchor="center", font=dict(family=SERIF, size=60, color="#000000"))]
for lab, sx in zip(scale_labels, [47, 98, 148, 252]):
    map_notes.append(dict(text=lab, x=sx, y=1252 + SOUTH, xanchor="center", font=dict(family=SERIF, size=34, color="#111111")))
map_notes.append(dict(text="km", x=280, y=1312 + SOUTH, xanchor="center", font=dict(family=SERIF, size=34, color="#111111")))
for lab, cy in zip(legend_labels, [848, 932, 1018, 1102, 1186, 1270, 1355]):
    map_notes.append(dict(text=lab, x=1288, y=cy + SOUTH, xanchor="left",
                          font=dict(family=SERIF, size=37, color="#111111", weight="bold")))
for a in map_notes:
    a.update(xref="x2", yref="y2", showarrow=False, yanchor="middle")

fig.update_layout(
    width=W, height=H, margin=dict(l=0, r=0, t=0, b=0), showlegend=False,
    paper_bgcolor="#ffffff", plot_bgcolor="rgba(0,0,0,0)",
    xaxis=dict(domain=[172 / W, 1796 / W], range=[-7, 7.07], tickvals=tick_vals, ticktext=tick_text, ticks="outside",
               ticklen=17, tickwidth=2.5, tickcolor="#222222", showgrid=False, zeroline=False, showline=True,
               linecolor="#444444", linewidth=4, anchor="y", automargin=False,
               tickfont=dict(family=SERIF, size=36, color="#111111", weight="bold")),
    yaxis=dict(domain=[1 - 1808 / H, 1 - 184 / H], range=[-7, 7], tickvals=tick_vals, ticktext=tick_text, ticks="outside",
               ticklen=17, tickwidth=3, tickcolor="#222222", showgrid=False, zeroline=False, showline=True,
               linecolor="#222222", linewidth=2.5, anchor="x", tickangle=-90, automargin=False,
               tickfont=dict(family="Liberation Sans", size=30, color="#111111")),
    xaxis2=dict(domain=[1860 / W, 1], range=[0, 1568], visible=False, anchor="y2", automargin=False),
    yaxis2=dict(domain=[0, 1], range=[2 * SOUTH, 0], visible=False, anchor="x2", automargin=False),
    shapes=shapes,
    annotations=annotations + map_notes,
)

fig.write_html("out.html", config={"displayModeBar": False}, post_script="document.body.style.margin='0';")
